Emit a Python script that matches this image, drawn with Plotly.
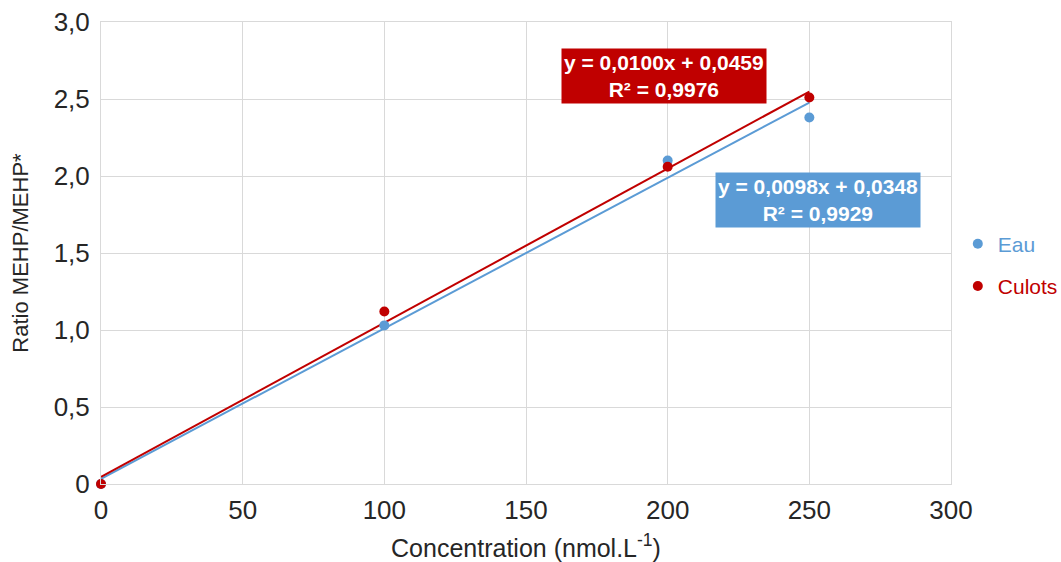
import numpy as np
import plotly.graph_objects as go

conc = [0, 100, 200, 250]
eau = [0.0, 1.03, 2.10, 2.38]
culots = [0.0, 1.12, 2.06, 2.51]
y_tickvals = [0, 0.5, 1.0, 1.5, 2.0, 2.5, 3.0]
y_ticktext = ["0", "0,5", "1,0", "1,5", "2,0", "2,5", "3,0"]
x_tickvals = [0, 50, 100, 150, 200, 250, 300]

BLUE = "#5B9BD5"
RED = "#C00000"
FONT = "Liberation Sans, Arial, sans-serif"
TXT = "#262626"

fig = go.Figure()

xs = np.array([min(conc), max(conc)])
for ys, col in [(eau, BLUE), (culots, RED)]:
    s, b = np.polyfit(conc, ys, 1)
    fig.add_trace(go.Scatter(x=xs, y=s * xs + b, mode="lines",
                             line=dict(color=col, width=2), showlegend=False,
                             hoverinfo="skip"))

fig.add_trace(go.Scatter(x=conc, y=eau, mode="markers",
                         name=f"<span style='color:{BLUE}'>Eau</span>",
                         legendgroup="a", marker=dict(color=BLUE, size=10), cliponaxis=False))
fig.add_trace(go.Scatter(x=conc, y=culots, mode="markers",
                         name=f"<span style='color:{RED}'>Culots</span>",
                         legendgroup="b", marker=dict(color=RED, size=10), cliponaxis=False))

fig.add_annotation(x=198.7, y=2.649, xref="x", yref="y",
                   text="<b>y = 0,0100x + 0,0459<br>R² = 0,9976</b>",
                   showarrow=False, bgcolor=RED, font=dict(color="white", size=21, family=FONT),
                   borderpad=2)
fig.add_annotation(x=253.1, y=1.847, xref="x", yref="y",
                   text="<b>y = 0,0098x + 0,0348<br>R² = 0,9929</b>",
                   showarrow=False, bgcolor=BLUE, font=dict(color="white", size=21, family=FONT),
                   borderpad=2)

fig.update_layout(
    width=1061, height=562,
    margin=dict(l=101, r=110, t=22, b=78, autoexpand=False),
    paper_bgcolor="white", plot_bgcolor="white",
    font=dict(family=FONT, color=TXT),
    legend=dict(x=1.008, y=0.474, xanchor="left", yanchor="middle",
                font=dict(size=21, family=FONT), itemwidth=30,
                traceorder="grouped", tracegroupgap=12,
                bgcolor="rgba(0,0,0,0)"),
    xaxis=dict(range=[0, 300], tickvals=x_tickvals, showgrid=True, gridcolor="#D9D9D9",
               zeroline=False, showline=True, linecolor="#D9D9D9", mirror=True,
               automargin=False,
               tickfont=dict(size=26, color=TXT), ticks="", ticklabelstandoff=3,
               title=dict(text="Concentration (nmol.L<sup>-1</sup>)", font=dict(size=25, color=TXT),
                          standoff=19)),
    yaxis=dict(range=[0, 3.0], tickvals=y_tickvals, ticktext=y_ticktext, showgrid=True,
               gridcolor="#D9D9D9", zeroline=False, showline=True, linecolor="#D9D9D9", mirror=True,
               automargin=False,
               tickfont=dict(size=26, color=TXT), ticks="", ticklabelstandoff=5,
               title=dict(text="Ratio MEHP/MEHP*", font=dict(size=22, color=TXT), standoff=18)),
)

fig.write_html("out.html", config={"displayModeBar": False},
               post_script="document.body.style.margin='0';")
